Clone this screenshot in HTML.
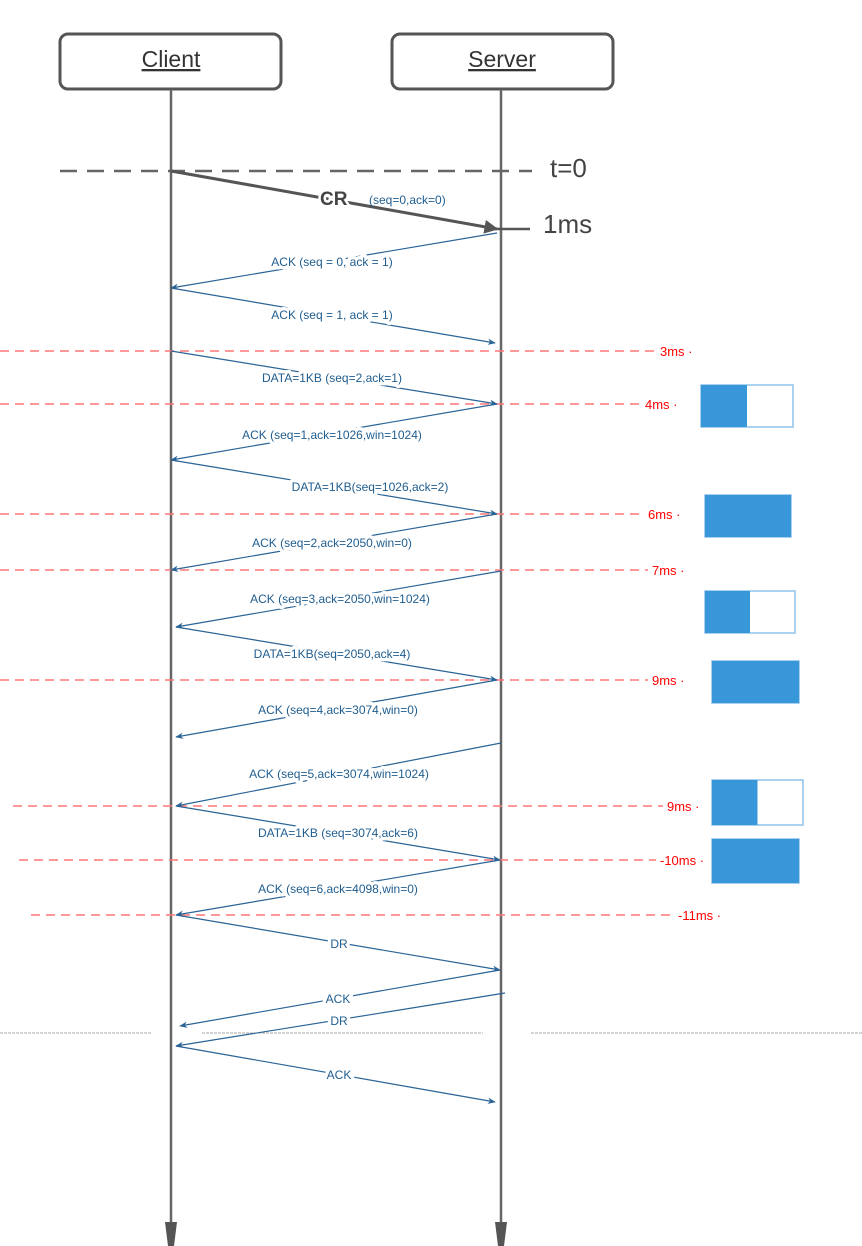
<!DOCTYPE html>
<html><head><meta charset="utf-8"><style>
html,body{margin:0;padding:0;background:#fff;}
svg{display:block;font-family:"Liberation Sans",sans-serif;}
</style></head><body>
<svg id="chart" width="862" height="1246" viewBox="0 0 862 1246">
<defs>
<marker id="ah" viewBox="0 0 10 10" refX="9" refY="5" markerWidth="8" markerHeight="8" orient="auto-start-reverse" markerUnits="userSpaceOnUse"><path d="M0,1 L10,5 L0,9 L3,5 Z" fill="#2a6496"/></marker>
<marker id="ahd" viewBox="0 0 10 10" refX="9" refY="5" markerWidth="14" markerHeight="14" orient="auto" markerUnits="userSpaceOnUse"><path d="M0,0 L10,5 L0,10 Z" fill="#555"/></marker>
</defs>
<g>
<rect x="60" y="34" width="221" height="55" rx="8" fill="#fff" stroke="#555" stroke-width="3"/>
<text x="171" y="67" font-size="23" text-anchor="middle" fill="#333" text-decoration="underline">Client</text>
</g>
<g>
<rect x="392" y="34" width="221" height="55" rx="8" fill="#fff" stroke="#555" stroke-width="3"/>
<text x="502" y="67" font-size="23" text-anchor="middle" fill="#333" text-decoration="underline">Server</text>
</g>
<g>
<line x1="171" y1="90" x2="171" y2="1222" stroke="#666" stroke-width="2.5"/>
<path d="M165,1222 L177,1222 L174,1246 L168,1246 Z" fill="#555"/>
</g>
<g>
<line x1="501" y1="90" x2="501" y2="1222" stroke="#666" stroke-width="2.5"/>
<path d="M495,1222 L507,1222 L504,1246 L498,1246 Z" fill="#555"/>
</g>
<line x1="60" y1="171" x2="532" y2="171" stroke="#666" stroke-width="2.5" stroke-dasharray="17,10"/>
<text x="550" y="177" font-size="26" fill="#444">t=0</text>
<line x1="497" y1="229" x2="530" y2="229" stroke="#555" stroke-width="2.5"/>
<text x="543" y="233" font-size="26" fill="#444">1ms</text>
<line x1="171" y1="171" x2="497" y2="229" stroke="#555" stroke-width="3" marker-end="url(#ahd)"/>
<text x="320" y="205" font-size="19" font-weight="bold" fill="#444" stroke="#fff" stroke-width="5" paint-order="stroke">CR</text>
<text x="369" y="204" font-size="12" fill="#1f5d8f">(seq=0,ack=0)</text>
<g id="dotted" stroke="#aaa" stroke-width="1" stroke-dasharray="3,1">
<line x1="0" y1="1033" x2="151" y2="1033"/><line x1="202" y1="1033" x2="483" y2="1033"/><line x1="531" y1="1033" x2="862" y2="1033"/>
</g>
<g id="timelines"></g>
<g id="windows"></g>
<g id="msgs"></g>
</svg>
<script>
const msgLabels=["ACK (seq = 0, ack = 1)","ACK (seq = 1, ack = 1)","DATA=1KB (seq=2,ack=1)","ACK (seq=1,ack=1026,win=1024)","DATA=1KB(seq=1026,ack=2)","ACK (seq=2,ack=2050,win=0)","ACK (seq=3,ack=2050,win=1024)","DATA=1KB(seq=2050,ack=4)","ACK (seq=4,ack=3074,win=0)","ACK (seq=5,ack=3074,win=1024)","DATA=1KB (seq=3074,ack=6)","ACK (seq=6,ack=4098,win=0)","DR","ACK","DR","ACK"];
const msgFromX=[497,171,171,497,171,497,501,176,497,501,176,500,176,500,505,176];
const msgFromY=[233,288,351,404,460,514,571,627,680,743,806,860,915,970,993,1046];
const msgToX=[171,495,497,171,497,171,176,497,176,176,500,176,500,180,176,495];
const msgToY=[288,343,404,460,514,570,627,680,737,806,860,915,970,1026,1046,1102];
const msgLabelX=[332,332,332,332,370,332,340,332,338,339,338,338,339,338,339,339];
const msgLabelY=[262,315,378,435,487,543,599,654,710,774,833,889,944,999,1021,1075];
const timeLabels=["3ms","4ms","6ms","7ms","9ms","9ms","-10ms","-11ms"];
const timeY=[351,404,514,570,680,806,860,915];
const timeStartX=[0,0,0,0,0,13,19,31];
const timeLabelX=[660,645,648,652,652,667,660,678];
const winX=[701,705,705,712,712,712];
const winY=[385,495,591,661,780,839];
const winW=[92,86,90,87,91,87];
const winH=[42,42,42,42,45,44];
const winFill=[0.5,1,0.5,1,0.5,1];
const NS="http://www.w3.org/2000/svg";
function mk(t,a,p){const e=document.createElementNS(NS,t);for(const k in a)e.setAttribute(k,a[k]);p.appendChild(e);return e;}
const tl=document.getElementById('timelines');
timeY.forEach((y,i)=>{
  const ln=mk('line',{x1:timeStartX[i],y1:y,x2:timeLabelX[i]-4,y2:y,stroke:'#f77','stroke-width':1.5,'stroke-dasharray':'9,6'},tl);
  
  
  const t=mk('text',{x:timeLabelX[i],y:y+5,'font-size':13,fill:'#f00'},tl);
  t.textContent=timeLabels[i]+' ·';
  
  
});
const wg=document.getElementById('windows');
winX.forEach((x,i)=>{
  const g=mk('g',{},wg);
  
  
  mk('rect',{x:x,y:winY[i],width:winW[i],height:winH[i],fill:'#fff',stroke:'#8ec2ea','stroke-width':1.5},g);
  mk('rect',{x:x,y:winY[i],width:winW[i]*winFill[i],height:winH[i],fill:'#3897d8'},g);
});
const mg=document.getElementById('msgs');
msgLabels.forEach((lab,i)=>{
  const l=mk('line',{x1:msgFromX[i],y1:msgFromY[i],x2:msgToX[i],y2:msgToY[i],stroke:'#2a6496','stroke-width':1.2,'marker-end':'url(#ah)'},mg);
  
  
  const t=mk('text',{x:msgLabelX[i],y:msgLabelY[i]+4,'font-size':12,'text-anchor':'middle',fill:'#1f5d8f',stroke:'#fff','stroke-width':7,'stroke-linejoin':'round','paint-order':'stroke'},mg);
  t.textContent=lab;
  
  
});
</script>
</body></html>
